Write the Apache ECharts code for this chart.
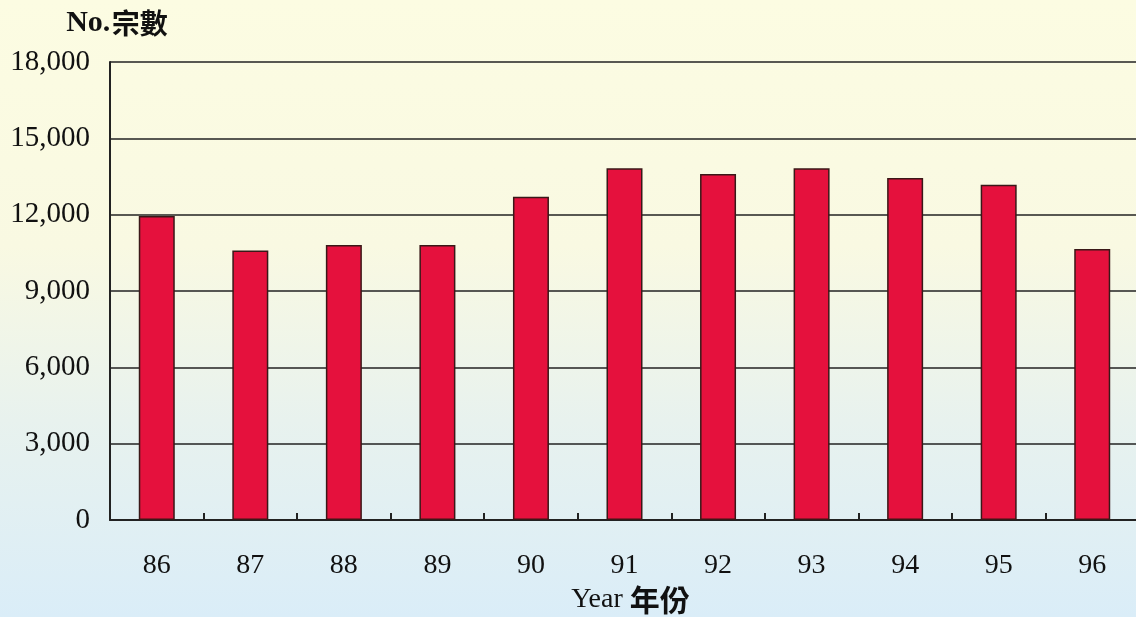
<!DOCTYPE html>
<html>
<head>
<meta charset="utf-8">
<script src="https://cdn.jsdelivr.net/npm/echarts@6/dist/echarts.min.js"></script>
<style>
html,body{margin:0;padding:0;}
body{width:1136px;height:617px;overflow:hidden;background:linear-gradient(to bottom,#fcfce2 0%,#f9f9e2 40%,#e8f2ee 68%,#daedf8 100%);}
#c{width:1136px;height:617px;}
</style>
</head>
<body>
<div id="c"></div>
<script>
const years = ['86','87','88','89','90','91','92','93','94','95','96'];
const cases = [11950, 10590, 10810, 10810, 12700, 13820, 13600, 13820, 13440, 13180, 10650];
const yTicks = {min: 0, max: 18000, interval: 3000};

const chart = echarts.init(document.getElementById('c'), null, {renderer: 'canvas'});
const serif = '"Liberation Serif", "Times New Roman", serif';
const cjk = '"Noto Sans CJK TC", "Noto Sans CJK SC", sans-serif';
chart.setOption({
  backgroundColor: 'transparent',
  animation: false,
  grid: {left: 110, right: -3, top: 62, bottom: 97, containLabel: false, outerBoundsMode: 'none'},
  xAxis: {
    type: 'category',
    data: years,
    axisLine: {show: true, lineStyle: {color: '#222', width: 2}},
    axisTick: {show: true, inside: true, length: 7, lineStyle: {color: '#222', width: 2}},
    axisLabel: {color: '#111', fontFamily: serif, fontSize: 28, margin: 32},
    name: '{a|Year}{s| }{b|年份}',
    nameLocation: 'middle',
    nameGap: 64,
    nameTextStyle: {
      padding: [0, 0, 0, 12],
      rich: {
        a: {fontFamily: serif, fontSize: 28, color: '#111'},
        s: {fontFamily: serif, fontSize: 28},
        b: {fontFamily: cjk, fontSize: 30, fontWeight: 'bold', color: '#111'}
      }
    }
  },
  yAxis: {
    type: 'value',
    min: yTicks.min, max: yTicks.max, interval: yTicks.interval,
    axisLine: {show: true, lineStyle: {color: '#222', width: 2}},
    axisTick: {show: false},
    splitLine: {show: true, lineStyle: {color: '#222', width: 1.5}},
    axisLabel: {
      color: '#111', fontFamily: serif, fontSize: 29, margin: 20,
      formatter: v => v.toLocaleString('en-US')
    },
    name: '{a|No.}{s| }{b|宗數}',
    nameLocation: 'end',
    nameGap: 24,
    nameTextStyle: {
      align: 'center',
      padding: [0, 0, 0, 14],
      rich: {
        a: {fontFamily: serif, fontSize: 30, fontWeight: 'bold', color: '#111'},
        s: {fontFamily: serif, fontSize: 6},
        b: {fontFamily: cjk, fontSize: 28, fontWeight: 'bold', color: '#111'}
      }
    }
  },
  series: [{
    type: 'bar',
    data: cases,
    barWidth: 36,
    itemStyle: {color: '#e5113d', borderColor: '#3a1818', borderWidth: 1.5}
  }]
});
</script>
</body>
</html>
